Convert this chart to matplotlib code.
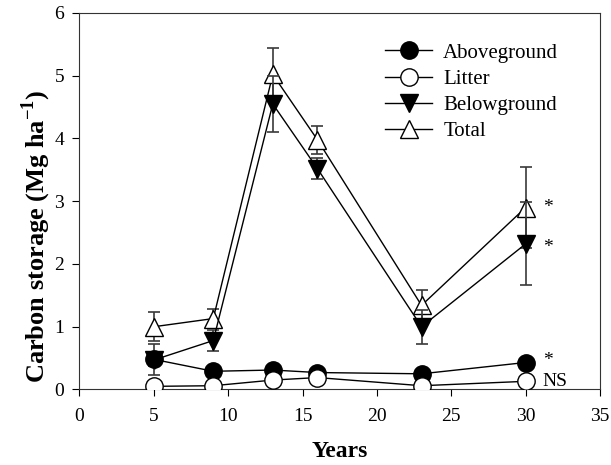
import matplotlib
import numpy as np

matplotlib.use('Agg')

import matplotlib.pyplot as plt
from matplotlib.lines import Line2D

plt.rcParams['font.family'] = ['Liberation Serif', 'DejaVu Serif']
plt.rcParams['mathtext.fontset'] = 'custom'
plt.rcParams['mathtext.bf'] = 'Liberation Serif:bold'
plt.rcParams['mathtext.rm'] = 'Liberation Serif'

# stand age (years) and carbon pools (Mg ha-1), mean and SE
years = [5, 9, 13, 16, 23, 30]
above = [0.48, 0.29, 0.31, 0.27, 0.25, 0.43]
above_se = [0.25, 0.03, 0.03, 0.03, 0.03, 0.04]
litter = [0.05, 0.06, 0.15, 0.19, 0.06, 0.13]
litter_se = [0.01, 0.01, 0.02, 0.02, 0.01, 0.02]
below = [0.47, 0.78, 4.55, 3.52, 1.00, 2.32]
below_se = [0.10, 0.17, 0.45, 0.17, 0.27, 0.66]
total = [1.00, 1.13, 5.02, 3.98, 1.34, 2.90]
total_se = [0.23, 0.15, 0.42, 0.22, 0.25, 0.64]

# significance marks at the last stand
sig_labels = ['*', '*', '*', 'NS']
sig_y = [2.83, 2.19, 0.39, 0.06]


def plot_storage():
    fig = plt.figure(figsize=(6.11, 4.65), dpi=100)
    ax = fig.add_axes([0.130, 0.1624, 0.852, 0.8097])

    err = dict(ecolor='#3a3a3a', elinewidth=1.2, capsize=4, capthick=1.2)
    ms = 12.5
    ax.errorbar(years, total, yerr=total_se, fmt='-^', color='black', mfc='white',
                mec='black', ms=ms, lw=1, zorder=2, **err)
    ax.errorbar(years, below, yerr=below_se, fmt='-v', color='black', mfc='black',
                mec='black', ms=ms, lw=1, zorder=3, **err)
    ax.errorbar(years, above, yerr=above_se, fmt='-o', color='black', mfc='black',
                mec='black', ms=ms, lw=1, zorder=4, **err)
    ax.errorbar(years, litter, yerr=litter_se, fmt='-o', color='black', mfc='white',
                mec='black', ms=ms, lw=1, zorder=5, **err)

    for lab, y in zip(sig_labels, sig_y):
        ax.text(31.15, y, lab, fontsize=14, ha='left', va='baseline')

    ax.set_xlim(0, 35)
    ax.set_ylim(0, 6)
    ax.set_xticks(np.arange(0, 36, 5))
    ax.set_yticks(np.arange(0, 7, 1))
    ax.tick_params(direction='out', length=5, labelsize=14, top=False, right=False)
    ax.tick_params(axis='x', pad=8.5)
    ax.tick_params(axis='y', pad=6)
    for sp in ax.spines.values():
        sp.set_color('#333333')
    ax.set_xlabel('Years', fontsize=17, fontweight='bold', labelpad=11)
    ax.set_ylabel(r'Carbon storage (Mg ha$^{\mathbf{-1}}$)', fontsize=19,
                  fontweight='bold')
    ax.yaxis.set_label_coords(-0.05, 0.408)

    handles = [
        Line2D([], [], color='black', lw=1, marker='o', mfc='black', mec='black', ms=ms),
        Line2D([], [], color='black', lw=1, marker='o', mfc='white', mec='black', ms=ms),
        Line2D([], [], color='black', lw=1, marker='v', mfc='black', mec='black', ms=ms),
        Line2D([], [], color='black', lw=1, marker='^', mfc='white', mec='black', ms=ms),
    ]
    labels = ['Aboveground', 'Litter', 'Belowground', 'Total']
    ax.legend(handles, labels, loc='upper left', bbox_to_anchor=(0.587, 0.920),
              borderaxespad=0, borderpad=0, frameon=False, fontsize=15,
              handlelength=2.26, labelspacing=0.32, handletextpad=0.53)

    plt.savefig('out.png', dpi=100)


if __name__ == '__main__':
    plot_storage()
